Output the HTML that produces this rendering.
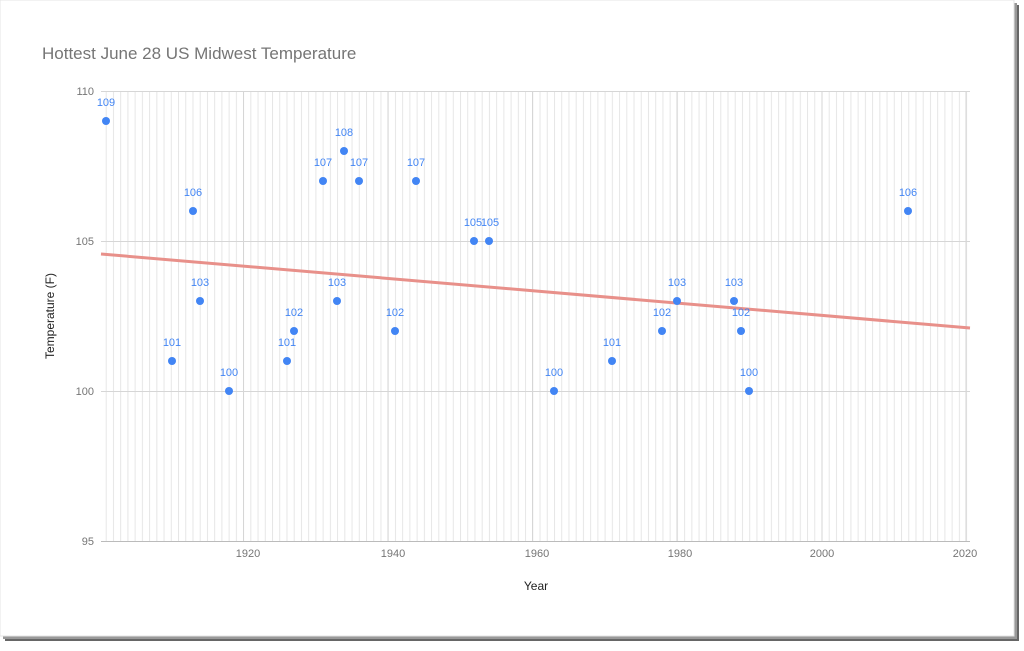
<!DOCTYPE html>
<html><head><meta charset="utf-8"><style>
body{margin:0;background:#fff;width:1024px;height:646px;overflow:hidden;font-family:"Liberation Sans",sans-serif}
</style></head><body>
<svg width="1024" height="646" xmlns="http://www.w3.org/2000/svg" font-family="Liberation Sans, sans-serif">
<defs>
<pattern id="g" x="98.5" y="0" width="7.23" height="646" patternUnits="userSpaceOnUse">
<line x1="0.5" y1="0" x2="0.5" y2="646" stroke="#e6e6e6" stroke-width="1"/>
</pattern>
</defs>
<rect x="5" y="5" width="1014" height="636" fill="#666"/>
<rect x="3" y="3" width="1014" height="636" fill="#999"/>
<rect x="0" y="0" width="1014" height="636" fill="#fff" stroke="#e4e4e4"/>
<text x="42" y="59" font-size="17" fill="#757575">Hottest June 28 US Midwest Temperature</text>
<rect x="102" y="91" width="867" height="450" fill="url(#g)"/>
<g stroke="#d6d6d6" stroke-width="1">
<line x1="101" y1="91.5" x2="970" y2="91.5"/>
<line x1="101" y1="241.5" x2="970" y2="241.5"/>
<line x1="101" y1="391.5" x2="970" y2="391.5"/>
<line x1="243.5" y1="91" x2="243.5" y2="541"/>
<line x1="388" y1="91" x2="388" y2="541"/>
<line x1="532.5" y1="91" x2="532.5" y2="541"/>
<line x1="677" y1="91" x2="677" y2="541"/>
<line x1="822" y1="91" x2="822" y2="541"/>
<line x1="966" y1="91" x2="966" y2="541"/>
<line x1="101" y1="541.5" x2="970" y2="541.5" stroke="#bbb"/>
</g>
<g font-size="11" fill="#757575" text-anchor="end">
<text x="94" y="95">110</text><text x="94" y="245">105</text><text x="94" y="395">100</text><text x="94" y="545">95</text>
</g>
<g font-size="11" fill="#757575" text-anchor="middle">
<text x="248" y="557">1920</text><text x="393" y="557">1940</text><text x="537" y="557">1960</text><text x="680" y="557">1980</text><text x="822" y="557">2000</text><text x="965" y="557">2020</text>
</g>
<text x="536" y="590" font-size="12" fill="#222" text-anchor="middle">Year</text>
<text transform="translate(54,316) rotate(-90)" font-size="12" fill="#222" text-anchor="middle">Temperature (F)</text>
<line x1="101" y1="254" x2="970" y2="328" stroke="#e8908a" stroke-width="3"/>
<g fill="#4285f4">
<circle cx="106" cy="121" r="4"/><circle cx="172" cy="361" r="4"/><circle cx="193" cy="211" r="4"/><circle cx="200" cy="301" r="4"/><circle cx="229" cy="391" r="4"/><circle cx="287" cy="361" r="4"/><circle cx="294" cy="331" r="4"/><circle cx="323" cy="181" r="4"/><circle cx="337" cy="301" r="4"/><circle cx="344" cy="151" r="4"/><circle cx="359" cy="181" r="4"/><circle cx="395" cy="331" r="4"/><circle cx="416" cy="181" r="4"/><circle cx="474" cy="241" r="4"/><circle cx="489" cy="241" r="4"/><circle cx="554" cy="391" r="4"/><circle cx="612" cy="361" r="4"/><circle cx="662" cy="331" r="4"/><circle cx="677" cy="301" r="4"/><circle cx="734" cy="301" r="4"/><circle cx="741" cy="331" r="4"/><circle cx="749" cy="391" r="4"/><circle cx="908" cy="211" r="4"/>
</g>
<g font-size="11" fill="#4285f4" text-anchor="middle">
<text x="106" y="106">109</text><text x="172" y="346">101</text><text x="193" y="196">106</text><text x="200" y="286">103</text><text x="229" y="376">100</text><text x="287" y="346">101</text><text x="294" y="316">102</text><text x="323" y="166">107</text><text x="337" y="286">103</text><text x="344" y="136">108</text><text x="359" y="166">107</text><text x="395" y="316">102</text><text x="416" y="166">107</text><text x="473" y="226">105</text><text x="490" y="226">105</text><text x="554" y="376">100</text><text x="612" y="346">101</text><text x="662" y="316">102</text><text x="677" y="286">103</text><text x="734" y="286">103</text><text x="741" y="316">102</text><text x="749" y="376">100</text><text x="908" y="196">106</text>
</g>
</svg>
</body></html>
